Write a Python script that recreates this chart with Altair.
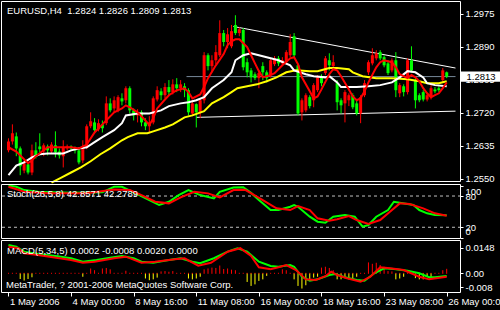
import json
import altair as alt
import pandas as pd

FONT = "Liberation Sans"
FS = 9.5

# ---------------- price candles (H4, one per bar index) ----------------
bar_index = list(range(113))
open_p = [1.2623, 1.2646, 1.2659, 1.2628, 1.2571, 1.2587, 1.2566, 1.2623, 1.2633, 1.2620,
          1.2633, 1.2620, 1.2636, 1.2620, 1.2608, 1.2628, 1.2633, 1.2628, 1.2623, 1.2597,
          1.2631, 1.2685, 1.2695, 1.2677, 1.2690, 1.2693, 1.2744, 1.2731, 1.2726, 1.2757,
          1.2752, 1.2783, 1.2726, 1.2713, 1.2721, 1.2695, 1.2685, 1.2695, 1.2754, 1.2775,
          1.2765, 1.2786, 1.2773, 1.2793, 1.2783, 1.2788, 1.2778, 1.2718, 1.2742, 1.2721,
          1.2752, 1.2868, 1.2840, 1.2855, 1.2868, 1.2925, 1.2902, 1.2891, 1.2946, 1.2925,
          1.2933, 1.2850, 1.2829, 1.2819, 1.2809, 1.2840, 1.2824, 1.2817, 1.2845, 1.2860,
          1.2847, 1.2850, 1.2868, 1.2917, 1.2842, 1.2721, 1.2726, 1.2760, 1.2752, 1.2778,
          1.2811, 1.2822, 1.2855, 1.2840, 1.2796, 1.2752, 1.2744, 1.2752, 1.2765, 1.2744,
          1.2718, 1.2765, 1.2824, 1.2847, 1.2860, 1.2876, 1.2863, 1.2847, 1.2829, 1.2855,
          1.2770, 1.2788, 1.2773, 1.2855, 1.2804, 1.2765, 1.2773, 1.2754, 1.2760, 1.2780,
          1.2783, 1.2804, 1.2824]
high_p = [1.2654, 1.2690, 1.2669, 1.2633, 1.2597, 1.2592, 1.2638, 1.2644, 1.2667, 1.2641,
          1.2638, 1.2644, 1.2672, 1.2628, 1.2649, 1.2638, 1.2636, 1.2633, 1.2628, 1.2649,
          1.2690, 1.2721, 1.2706, 1.2703, 1.2700, 1.2762, 1.2757, 1.2762, 1.2765, 1.2770,
          1.2788, 1.2788, 1.2731, 1.2729, 1.2726, 1.2706, 1.2711, 1.2762, 1.2788, 1.2783,
          1.2796, 1.2804, 1.2806, 1.2809, 1.2804, 1.2796, 1.2783, 1.2752, 1.2744, 1.2757,
          1.2876, 1.2873, 1.2868, 1.2894, 1.2958, 1.2933, 1.2938, 1.2946, 1.2971, 1.2940,
          1.2938, 1.2860, 1.2835, 1.2824, 1.2829, 1.2850, 1.2829, 1.2860, 1.2866, 1.2866,
          1.2863, 1.2881, 1.2922, 1.2925, 1.2845, 1.2757, 1.2770, 1.2765, 1.2796, 1.2817,
          1.2819, 1.2866, 1.2873, 1.2868, 1.2804, 1.2757, 1.2778, 1.2770, 1.2770, 1.2752,
          1.2765, 1.2804, 1.2855, 1.2886, 1.2881, 1.2881, 1.2868, 1.2855, 1.2860, 1.2876,
          1.2796, 1.2793, 1.2860, 1.2891, 1.2809, 1.2770, 1.2778, 1.2770, 1.2791, 1.2786,
          1.2788, 1.2835, 1.2826]
low_p = [1.2618, 1.2638, 1.2608, 1.2559, 1.2564, 1.2561, 1.2559, 1.2602, 1.2618, 1.2608,
         1.2610, 1.2615, 1.2605, 1.2602, 1.2579, 1.2623, 1.2623, 1.2615, 1.2587, 1.2590,
         1.2626, 1.2680, 1.2667, 1.2672, 1.2669, 1.2688, 1.2721, 1.2721, 1.2721, 1.2739,
         1.2744, 1.2718, 1.2700, 1.2695, 1.2685, 1.2675, 1.2667, 1.2690, 1.2749, 1.2752,
         1.2757, 1.2765, 1.2767, 1.2773, 1.2773, 1.2760, 1.2713, 1.2711, 1.2682, 1.2706,
         1.2744, 1.2829, 1.2824, 1.2845, 1.2863, 1.2891, 1.2886, 1.2886, 1.2920, 1.2917,
         1.2829, 1.2811, 1.2798, 1.2804, 1.2783, 1.2804, 1.2798, 1.2811, 1.2840, 1.2840,
         1.2842, 1.2847, 1.2863, 1.2863, 1.2713, 1.2700, 1.2721, 1.2731, 1.2734, 1.2773,
         1.2788, 1.2817, 1.2829, 1.2829, 1.2726, 1.2718, 1.2695, 1.2737, 1.2729, 1.2713,
         1.2693, 1.2760, 1.2817, 1.2842, 1.2855, 1.2855, 1.2837, 1.2817, 1.2824, 1.2760,
         1.2760, 1.2762, 1.2767, 1.2824, 1.2731, 1.2747, 1.2749, 1.2749, 1.2754, 1.2770,
         1.2773, 1.2798, 1.2809]
close_p = [1.2646, 1.2667, 1.2628, 1.2582, 1.2590, 1.2566, 1.2623, 1.2608, 1.2626, 1.2636,
           1.2623, 1.2638, 1.2618, 1.2610, 1.2631, 1.2633, 1.2628, 1.2623, 1.2592, 1.2633,
           1.2685, 1.2698, 1.2675, 1.2693, 1.2680, 1.2744, 1.2726, 1.2752, 1.2760, 1.2749,
           1.2783, 1.2726, 1.2713, 1.2721, 1.2695, 1.2685, 1.2695, 1.2757, 1.2778, 1.2765,
           1.2786, 1.2773, 1.2793, 1.2783, 1.2793, 1.2778, 1.2721, 1.2744, 1.2721, 1.2752,
           1.2868, 1.2840, 1.2855, 1.2876, 1.2925, 1.2902, 1.2922, 1.2930, 1.2925, 1.2935,
           1.2837, 1.2824, 1.2811, 1.2809, 1.2822, 1.2824, 1.2809, 1.2855, 1.2860, 1.2847,
           1.2855, 1.2876, 1.2902, 1.2868, 1.2718, 1.2752, 1.2765, 1.2737, 1.2791, 1.2811,
           1.2796, 1.2860, 1.2842, 1.2850, 1.2747, 1.2739, 1.2773, 1.2765, 1.2734, 1.2718,
           1.2760, 1.2796, 1.2850, 1.2868, 1.2873, 1.2860, 1.2842, 1.2822, 1.2855, 1.2778,
           1.2791, 1.2773, 1.2855, 1.2829, 1.2752, 1.2752, 1.2754, 1.2765, 1.2783, 1.2775,
           1.2778, 1.2829, 1.2813]

# ---------------- moving averages ----------------
red_ma_bar = [0, 2, 5, 6, 7, 10, 16, 18, 20, 22, 24, 27, 29, 30, 31, 33, 35, 36, 37, 38,
              40, 41, 43, 45, 46, 47, 49, 50, 51, 53, 55, 56, 57, 58, 59, 61, 62, 63, 64, 65,
              67, 68, 70, 72, 73, 74, 75, 77, 78, 79, 80, 82, 83, 84, 85, 87, 88, 89, 90, 91,
              92, 94, 95, 96, 98, 99, 100, 102, 103, 104, 105, 106, 107, 108, 109, 110, 111, 112]
red_ma_val = [1.2631, 1.2620, 1.2590, 1.2597, 1.2608, 1.2631, 1.2631, 1.2628, 1.2638, 1.2669,
              1.2690, 1.2721, 1.2731, 1.2739, 1.2734, 1.2721, 1.2700, 1.2688, 1.2706, 1.2731,
              1.2754, 1.2765, 1.2778, 1.2783, 1.2773, 1.2757, 1.2767, 1.2786, 1.2809, 1.2842,
              1.2871, 1.2894, 1.2904, 1.2909, 1.2909, 1.2889, 1.2868, 1.2847, 1.2827, 1.2811,
              1.2817, 1.2822, 1.2842, 1.2860, 1.2863, 1.2845, 1.2811, 1.2775, 1.2757, 1.2762,
              1.2780, 1.2819, 1.2832, 1.2829, 1.2814, 1.2780, 1.2762, 1.2752, 1.2757, 1.2775,
              1.2798, 1.2837, 1.2850, 1.2855, 1.2850, 1.2837, 1.2819, 1.2809, 1.2817, 1.2811,
              1.2801, 1.2783, 1.2770, 1.2760, 1.2765, 1.2770, 1.2783, 1.2798]
white_ma_bar = [0, 2, 4, 6, 8, 10, 14, 16, 18, 20, 22, 24, 27, 29, 30, 33, 36, 39, 41, 44,
                46, 48, 50, 52, 55, 57, 58, 60, 62, 64, 67, 69, 72, 73, 76, 78, 81, 82, 84, 85,
                89, 92, 95, 98, 100, 102, 104, 106, 107, 109, 112]
white_ma_val = [1.2559, 1.2584, 1.2592, 1.2605, 1.2613, 1.2615, 1.2615, 1.2623, 1.2628, 1.2631,
                1.2644, 1.2657, 1.2675, 1.2693, 1.2713, 1.2718, 1.2718, 1.2726, 1.2737, 1.2744,
                1.2747, 1.2752, 1.2760, 1.2783, 1.2804, 1.2824, 1.2855, 1.2868, 1.2873, 1.2868,
                1.2860, 1.2855, 1.2842, 1.2829, 1.2819, 1.2814, 1.2811, 1.2814, 1.2798, 1.2786,
                1.2786, 1.2788, 1.2791, 1.2798, 1.2811, 1.2827, 1.2824, 1.2811, 1.2796, 1.2791,
                1.2788]
yellow_ma_bar = [11, 13.5, 16, 18.5, 21, 23.5, 26, 29, 30.5, 33, 35.5, 37, 40, 42, 45, 47, 50,
                 52, 55, 57, 58.5, 61, 63.5, 66, 68.5, 71, 73.5, 77, 79, 82, 84, 87, 88, 90.5,
                 94, 98, 102, 105, 107, 110, 112]
yellow_ma_val = [1.2540, 1.2553, 1.2566, 1.2579, 1.2595, 1.2613, 1.2628, 1.2649, 1.2657, 1.2667,
                 1.2667, 1.2672, 1.2682, 1.2690, 1.2708, 1.2713, 1.2724, 1.2744, 1.2760, 1.2773,
                 1.2783, 1.2788, 1.2793, 1.2801, 1.2811, 1.2824, 1.2829, 1.2827, 1.2827, 1.2835,
                 1.2835, 1.2832, 1.2824, 1.2814, 1.2809, 1.2809, 1.2806, 1.2801, 1.2796, 1.2796,
                 1.2801]

# trend lines and bid line
upper_trend_bar = [57.5, 114.25]
upper_trend_val = [1.2942, 1.2835]
lower_trend_bar = [48, 114.25]
lower_trend_val = [1.2708, 1.2724]
bid_price = 1.2813
bid_start_bar = 45.5
bid_end_bar = 114.25

# ---------------- stochastic ----------------
stoch_k_bar = [0, 2, 4, 7.5, 16, 24, 27, 29, 32.5, 36, 38.5, 41, 43.5, 46, 49, 52.5, 54, 57.5,
               60, 62, 64, 67, 69, 72, 73, 74, 77, 79, 81, 83, 86, 88.5, 90.5, 92, 94, 97,
               98.5, 100, 103.5, 105, 107, 109, 112]
stoch_k_val = [100, 97.8, 91.4, 88.2, 86.3, 87, 97.8, 97.8, 85.1, 72.3, 62.7, 69, 81.8, 91.4,
               81.8, 75.5, 88.2, 96.5, 97, 86, 72.3, 53.1, 53.1, 59.4, 62.7, 59.4, 40.3, 30.7,
               28.8, 40.3, 43.5, 40.3, 21.1, 24.3, 40.3, 53.1, 69, 67.1, 62.7, 53.1, 46.8,
               43.5, 42.86]
stoch_d_bar = [0, 2.5, 4, 10, 20, 27, 31, 34, 37.5, 41, 44, 47.5, 51, 54, 57.5, 60.5, 65, 68.5,
               72, 74, 77, 79, 82, 84, 87, 89, 92, 95, 97.5, 100, 102.5, 106, 109, 112]
stoch_d_val = [97.8, 92, 88.2, 85.1, 85.1, 92.7, 91.4, 81.8, 69, 65.9, 77.4, 88.2, 85.1, 77.4,
               91.4, 92, 72.3, 56.4, 53.1, 60.8, 53.1, 37.2, 32.6, 35.3, 41.6, 33.9, 26.3,
               33.9, 49.8, 65.9, 64.6, 56.4, 46.8, 42.28]
stoch_levels = [20, 80]

# ---------------- MACD ----------------
macd_bar = [0, 2, 4, 7.5, 12, 16, 19, 22.5, 26, 29, 32, 34, 37, 41, 44, 47, 49, 52.5, 56, 58.5,
            61, 62, 64, 67, 69, 72, 73, 75, 77, 79, 82, 83.5, 86, 89, 91, 93.5, 96, 98.5, 102,
            105, 107.5, 109, 112]
macd_val = [0.0164, 0.0154, 0.0125, 0.0112, 0.0100, 0.0087, 0.0067, 0.0077, 0.0090, 0.0100,
            0.0087, 0.0067, 0.0061, 0.0077, 0.0087, 0.0067, 0.0058, 0.0087, 0.0125, 0.0145,
            0.0125, 0.0106, 0.0067, 0.0042, 0.0038, 0.0048, 0.0038, -0.0020, -0.0043, -0.0035,
            -0.0010, -0.0004, -0.0023, -0.0039, -0.0043, 0.0000, 0.0029, 0.0025, 0.0015,
            0.0000, -0.0023, -0.0023, -0.0016]
signal_bar = [0, 2.5, 4, 7.5, 16, 19, 22, 27, 30, 34, 37.5, 42.5, 45, 48.5, 51.75, 56, 59.25,
              62, 64, 67, 69, 71, 73.5, 76, 78.5, 81, 82.5, 84, 86.5, 90, 92.5, 95, 97.5, 101,
              105, 107.5, 112]
signal_val = [0.0154, 0.0145, 0.0116, 0.0106, 0.0077, 0.0061, 0.0067, 0.0087, 0.0096, 0.0061,
              0.0067, 0.0081, 0.0087, 0.0044, 0.0061, 0.0125, 0.0145, 0.0100, 0.0035, 0.0023,
              0.0035, 0.0048, 0.0019, -0.0035, -0.0039, -0.0017, 0.0009, -0.0010, -0.0029,
              -0.0049, -0.0020, 0.0035, 0.0029, 0.0019, -0.0020, -0.0035, -0.0020]
macd_hist = [0, 0, 0, -0.0033, -0.0042, -0.0033, -0.0023, 0, 0, 0,
             0, 0, 0, 0, 0, 0, 0, 0, 0, -0.0020,
             0, 0.0025, 0.0015, 0, 0.0025, 0.0028, 0.0020, 0, 0, 0,
             0.0012, 0, 0, 0, 0, -0.0030, -0.0040, -0.0035, -0.0025, 0.0008,
             0.0010, 0.0006, 0.0010, 0, 0, 0, -0.0030, -0.0035, -0.0030, -0.0020,
             0.0020, 0.0025, 0.0030, 0.0028, 0.0042, 0.0022, 0.0025, 0.0018, 0.0015, 0,
             0, -0.0050, -0.0073, -0.0064, -0.0044, -0.0035, -0.0015, 0, 0, 0,
             0.0020, 0.0015, 0, -0.0035, -0.0073, -0.0088, -0.0069, -0.0035, -0.0025, -0.0020,
             0.0030, 0.0035, 0.0028, 0.0015, -0.0035, -0.0035, -0.0028, -0.0035, -0.0030, -0.0020,
             0, 0, 0.0060, 0.0052, 0.0058, 0.0045, 0.0035, 0.0010, 0.0008, -0.0035,
             -0.0030, -0.0020, 0, 0, -0.0028, -0.0035, -0.0035, -0.0020, -0.0022, 0,
             0, 0.0015, 0.0023]

# ---------------- axis ticks / texts ----------------
time_ticks = [0, 16, 32, 48, 64, 80, 96, 112]
time_labels = ["1 May 2006", "4 May 00:00", "8 May 16:00", "11 May 08:00",
               "16 May 00:00", "18 May 16:00", "23 May 08:00", "26 May 00:00"]
price_ticks = [1.2550, 1.2635, 1.2720, 1.2805, 1.2890, 1.2975]
stoch_ticks = [0, 20, 80, 100]
macd_ticks = [-0.008, 0.0, 0.0148]
macd_tick_labels = ["-0.008", "0.00", "0.0148"]
chart_title = "EURUSD,H4\u00a0 1.2824 1.2826 1.2809 1.2813"
stoch_title = "Stoch(26,5,8) 42.8571 42.2789"
macd_title = "MACD(5,34,5) 0.0002 -0.0008 0.0020 0.0000"
footer = "MetaTrader, ? 2001-2006 MetaQuotes Software Corp."

# ---------------- tables ----------------
candles = pd.DataFrame({"bar": bar_index, "open": open_p, "high": high_p,
                        "low": low_p, "close": close_p})
candles["dir"] = ["up" if c >= o else "down" for o, c in zip(open_p, close_p)]
red_ma = pd.DataFrame({"bar": red_ma_bar, "v": red_ma_val})
white_ma = pd.DataFrame({"bar": white_ma_bar, "v": white_ma_val})
yellow_ma = pd.DataFrame({"bar": yellow_ma_bar, "v": yellow_ma_val})
upper_tl = pd.DataFrame({"bar": upper_trend_bar, "v": upper_trend_val})
lower_tl = pd.DataFrame({"bar": lower_trend_bar, "v": lower_trend_val})
bid = pd.DataFrame({"s": [bid_start_bar], "e": [bid_end_bar], "v": [bid_price],
                    "top": [bid_price + 0.0013], "bot": [bid_price - 0.0013],
                    "t": [f"{bid_price:.4f}"]})
stk = pd.DataFrame({"bar": stoch_k_bar, "v": stoch_k_val})
std = pd.DataFrame({"bar": stoch_d_bar, "v": stoch_d_val})
lev = pd.DataFrame({"level": stoch_levels})
mac = pd.DataFrame({"bar": macd_bar, "v": macd_val})
sig = pd.DataFrame({"bar": signal_bar, "v": signal_val})
hist = pd.DataFrame({"bar": bar_index, "h": macd_hist})
hist["zero"] = 0.0
hist["up"] = [max(h, 0.0) for h in macd_hist]
hist_dn = hist[hist["h"] < 0]
one = pd.DataFrame({"k": [0]})

# ---------------- scales & axes ----------------
X_SCALE = alt.Scale(domain=[-0.25, 114.25], range=[2.5, 460.5], nice=False, zero=False)
X_AXIS = alt.Axis(values=time_ticks,
                  labelExpr=f"{json.dumps(time_labels)}[indexof({json.dumps(time_ticks)}, datum.value)]",
                  title=None, domain=False, grid=False, tickSize=4, tickColor="white",
                  labelColor="white", labelFont=FONT, labelFontSize=FS, labelAlign="left",
                  labelBaseline="alphabetic", labelPadding=8, labelOffset=1,
                  labelFlush=False, labelOverlap=False, labelBound=False)

P_SCALE = alt.Scale(domain=[1.25415, 1.30051], range=[182, 2], nice=False, zero=False)
P_AXIS = alt.Axis(orient="right", values=price_ticks, format=".4f", title=None,
                  domain=False, grid=False, tickSize=3, tickColor="white",
                  labelColor="white", labelFont=FONT, labelFontSize=FS, labelPadding=2,
                  labelFlush=False, labelOverlap=False, labelBound=False, zindex=0)

S_SCALE = alt.Scale(domain=[0, 100], range=[237.7, 185.6], nice=False, zero=False)
S_AXIS = alt.Axis(orient="right", values=stoch_ticks, title=None, domain=False, grid=False,
                  tickSize=3, tickColor="white", labelColor="white", labelFont=FONT,
                  labelFontSize=FS, labelPadding=2, labelFlush=False, labelOverlap=False,
                  labelBound=False,
                  labelOffset={"condition": [{"test": "datum.value == 100", "value": 6},
                                             {"test": "datum.value == 0", "value": -6}],
                               "value": 0})

M_SCALE = alt.Scale(domain=[-0.01081, 0.01867], range=[292, 241], nice=False, zero=False)
M_AXIS = alt.Axis(orient="right", values=macd_ticks,
                  labelExpr=f"{json.dumps(macd_tick_labels)}[indexof({json.dumps(macd_ticks)}, datum.value)]",
                  title=None, domain=False, grid=False, tickSize=3, tickColor="white",
                  labelColor="white", labelFont=FONT, labelFontSize=FS, labelPadding=2,
                  labelFlush=False, labelOverlap=False, labelBound=False)


def xq(f):
    return alt.X(f"{f}:Q", scale=X_SCALE, axis=X_AXIS)


def py(f):
    return alt.Y(f"{f}:Q", scale=P_SCALE, axis=P_AXIS)


def sy(f):
    return alt.Y(f"{f}:Q", scale=S_SCALE, axis=S_AXIS)


def my(f):
    return alt.Y(f"{f}:Q", scale=M_SCALE, axis=M_AXIS)


dir_color = alt.Color("dir:N", scale=alt.Scale(domain=["up", "down"],
                                               range=["#ff0000", "#00ff00"]), legend=None)


def label(txt, x, y, color="white", align="left"):
    return alt.Chart(one).mark_text(text=txt, font=FONT, fontSize=FS, color=color,
                                    align=align, baseline="alphabetic").encode(
        x=alt.value(x), y=alt.value(y))


# ---------------- main panel ----------------
bid_line = alt.Chart(bid).mark_rule(color="#778899", strokeWidth=1).encode(
    x=xq("s"), x2="e", y=py("v"))
up_tl = alt.Chart(upper_tl).mark_line(color="white", strokeWidth=1).encode(x=xq("bar"), y=py("v"))
lo_tl = alt.Chart(lower_tl).mark_line(color="white", strokeWidth=1).encode(x=xq("bar"), y=py("v"))
wicks = alt.Chart(candles).mark_rule(strokeWidth=1).encode(
    x=xq("bar"), y=py("low"), y2="high", color=dir_color)
bodies = alt.Chart(candles).mark_bar(size=3).encode(
    x=xq("bar"), y=py("open"), y2="close", color=dir_color)
yl = alt.Chart(yellow_ma).mark_line(color="#ffff00", strokeWidth=2).encode(x=xq("bar"), y=py("v"))
wl = alt.Chart(white_ma).mark_line(color="white", strokeWidth=2).encode(x=xq("bar"), y=py("v"))
rl = alt.Chart(red_ma).mark_line(color="#ff0000", strokeWidth=2).encode(x=xq("bar"), y=py("v"))
box = alt.Chart(bid).mark_rect(color="white").encode(
    x=alt.value(461), x2=alt.value(500), y=py("top"), y2="bot")
box_txt = alt.Chart(bid).mark_text(font=FONT, fontSize=FS, color="black", align="center",
                                   baseline="middle").encode(
    x=alt.value(481), y=py("v"), text="t:N")
main = alt.layer(bid_line, up_tl, lo_tl, wicks, bodies, yl, wl, rl, box, box_txt,
                 label(chart_title, 7, 14))

# ---------------- stochastic panel ----------------
lev_lines = alt.Chart(lev).mark_rule(color="#c0c0c0", strokeWidth=1, strokeDash=[3, 3]).encode(
    x=alt.value(2), x2=alt.value(460), y=sy("level"))
k_line = alt.Chart(stk).mark_line(color="#00ff00", strokeWidth=2).encode(x=xq("bar"), y=sy("v"))
d_line = alt.Chart(std).mark_line(color="#ff0000", strokeWidth=2).encode(x=xq("bar"), y=sy("v"))
stoch = alt.layer(lev_lines, k_line, d_line, label(stoch_title, 7, 197))

# ---------------- MACD panel ----------------
h_dn = alt.Chart(hist_dn).mark_rule(color="#ffff00", strokeWidth=1).encode(
    x=xq("bar"), y=my("zero"), y2="h")
h_up = alt.Chart(hist).mark_rule(color="#ff0000", strokeWidth=1, strokeCap="square").encode(
    x=xq("bar"), y=my("zero"), y2="up")
m_line = alt.Chart(mac).mark_line(color="#00ff00", strokeWidth=2).encode(x=xq("bar"), y=my("v"))
s_line = alt.Chart(sig).mark_line(color="#ff0000", strokeWidth=2).encode(x=xq("bar"), y=my("v"))


def frame(y0, y1):
    return alt.Chart(one).mark_rect(fillOpacity=0, stroke="white", strokeWidth=1).encode(
        x=alt.value(1.5), x2=alt.value(460.5), y=alt.value(y0), y2=alt.value(y1))


macd = alt.layer(h_dn, h_up, m_line, s_line, label(macd_title, 7, 254),
                 label(footer, 6, 287.5),
                 frame(1.5, 181.5), frame(184.5, 238.5), frame(240.5, 292.5))

chart = alt.layer(main, stoch, macd).resolve_scale(y="independent").properties(
    width=460, height=292,
    autosize=alt.AutoSizeParams(type="none"),
    padding={"left": 0, "top": 0, "right": 40, "bottom": 18},
    background="black",
).configure_view(stroke=None)

chart.save("out.html", embed_options={"renderer": "svg", "actions": False})
